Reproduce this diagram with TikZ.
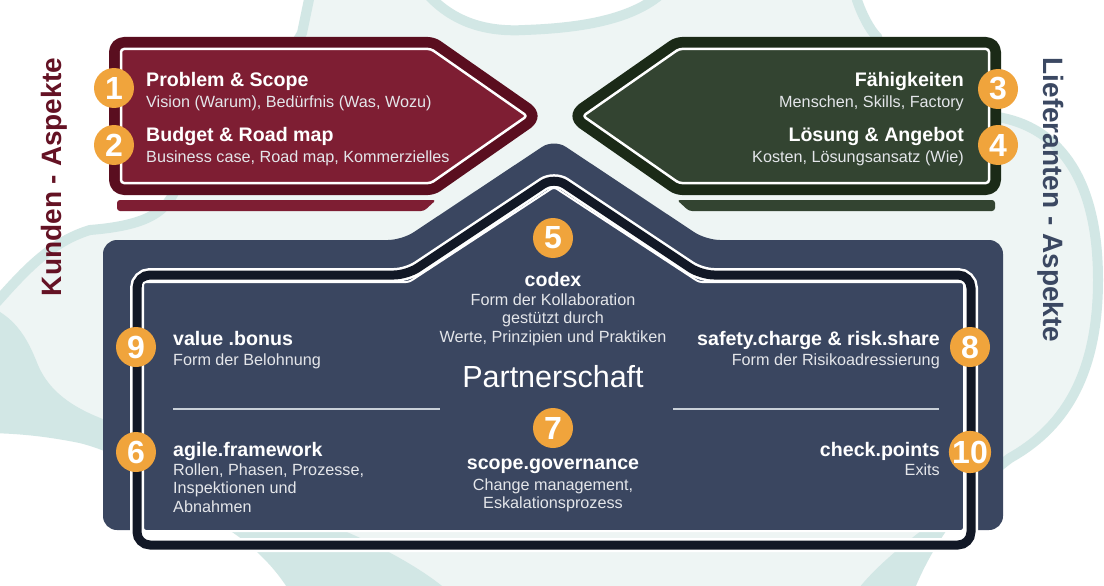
\documentclass[tikz,border=0pt]{standalone}
\usepackage{fontspec}
\setmainfont{Liberation Sans}
\definecolor{mint}{HTML}{EEF5F4}
\definecolor{teal}{HTML}{D2E7E5}
\definecolor{redin}{HTML}{7E1E33}
\definecolor{redout}{HTML}{5A0E1F}
\definecolor{grnin}{HTML}{334431}
\definecolor{grnout}{HTML}{1B2A17}
\definecolor{slate}{HTML}{3A4660}
\definecolor{frameblk}{HTML}{121826}
\definecolor{badge}{HTML}{F0A43C}
\definecolor{subtxt}{HTML}{E4E6EA}
\definecolor{rulegrey}{HTML}{C9D0D8}
\definecolor{kundcol}{HTML}{641224}
\definecolor{liefcol}{HTML}{3B4862}
% outline of the soft background blob
\newcommand\blobpath{(175,190) .. controls (200,130) and (280,75) .. (302,33) -- (312,-15) -- (420,-15)
  .. controls (450,25) and (490,32) .. (525,30) .. controls (580,28) and (640,20) .. (670,-15)
  -- (855,-15) -- (857,0) .. controls (862,15) and (870,30) .. (877,37)
  .. controls (890,80) and (940,105) .. (1003,118) .. controls (1060,130) and (1098,180) .. (1098,280)
  .. controls (1098,380) and (1060,430) .. (1010,458) .. controls (960,495) and (925,545) .. (905,600)
  -- (300,600) .. controls (285,570) and (260,545) .. (235,528) .. controls (190,490) and (130,450) .. (80,438)
  .. controls (40,430) and (10,428) .. (-20,428) -- (-20,320) .. controls (10,290) and (40,245) .. (90,230)
  .. controls (140,226) and (165,215) .. (175,190) -- cycle}
\begin{document}
\begin{tikzpicture}[x=1pt,y=-1pt,
  num/.style={circle, fill=badge, text=white, inner sep=0pt, minimum size=40pt,
    font=\bfseries\fontsize{32}{32}\selectfont},
  ttl/.style={text=white, inner sep=0pt, font=\bfseries\fontsize{19.6}{19.6}\selectfont},
  sub/.style={text=subtxt, inner sep=0pt, font=\fontsize{16.2}{16.2}\selectfont},
  side/.style={inner sep=0pt, font=\bfseries\fontsize{28}{28}\selectfont},
  arrowfill/.style={line width=2.5pt, draw=white, rounded corners=3pt, line join=round},
  arrowrim/.style={line width=24pt, line join=round, rounded corners=3pt},
]
\useasboundingbox (0,0) rectangle (1104,586);
\fill[white] (0,0) rectangle (1104,586);

% background blob with its teal rim
\begin{scope}
  \clip (0,0) rectangle (1104,586);
  \fill[mint] \blobpath;
  \begin{scope}
    \clip \blobpath;
    \fill[teal] (-30,300) .. controls (15,310) and (28,340) .. (38,365)
      .. controls (52,398) and (85,415) .. (130,428) -- (130,480) -- (-30,480) -- cycle;
    \fill[teal] (180,480) -- (330,525) .. controls (380,545) and (430,572) .. (458,600) -- (180,600) -- cycle;
    \fill[teal] (1005,470) .. controls (950,510) and (880,555) .. (850,600) -- (1120,600) -- (1120,430) -- cycle;
  \end{scope}
  \draw[teal, line width=10pt] \blobpath;
\end{scope}

% customer arrow (left, red)
\fill[redin, rounded corners=3pt] (117,200) -- (436,200) -- (424,211) -- (117,211) -- cycle;
\draw[redout, arrowrim, fill=redout] (121,49) -- (431,49) -- (527,116) -- (431,183) -- (121,183) -- cycle;
\draw[arrowfill, fill=redin] (121,49) -- (431,49) -- (527,116) -- (431,183) -- (121,183) -- cycle;

% supplier arrow (right, green)
\fill[grnin, rounded corners=3pt] (677,200) -- (995,200) -- (995,211) -- (689,211) -- cycle;
\draw[grnout, arrowrim, fill=grnout] (989,49) -- (679,49) -- (583,116) -- (679,183) -- (989,183) -- cycle;
\draw[arrowfill, fill=grnin] (989,49) -- (679,49) -- (583,116) -- (679,183) -- (989,183) -- cycle;

% partnership house
\fill[slate, rounded corners=14pt] (103,530) -- (103,240) -- (402,240) -- (554,139) -- (706,240)
  -- (1003,240) -- (1003,530) -- cycle;
\draw[white, line width=14pt, rounded corners=13pt] (137,545) -- (137,275) -- (407,275) -- (554,177)
  -- (701,275) -- (971,275) -- (971,545) -- cycle;
\draw[frameblk, line width=9pt, rounded corners=13pt] (137,545) -- (137,275) -- (407,275) -- (554,177)
  -- (701,275) -- (971,275) -- (971,545) -- cycle;
\draw[white, line width=2pt, fill=slate, rounded corners=3pt] (143,531) -- (143,282) -- (409,282)
  -- (554,187) -- (699,282) -- (964,282) -- (964,531) -- cycle;

% separators
\draw[rulegrey, line width=2.5pt] (173,409) -- (440,409);
\draw[rulegrey, line width=2.5pt] (673,409) -- (939,409);

% side labels
\node[side, text=kundcol, rotate=90] (kunden) at (54,177) {Kunden - Aspekte};
\node[side, text=liefcol, rotate=-90] (lief) at (1051,200) {Lieferanten - Aspekte};

% customer texts
\node[ttl, anchor=base west] (t1) at (146,87) {Problem \& Scope};
\node[sub, anchor=base west] (s1) at (146,107) {Vision (Warum), Bedürfnis (Was, Wozu)};
\node[ttl, anchor=base west] (t2) at (146,142) {Budget \& Road map};
\node[sub, anchor=base west] (s2) at (146,162) {Business case, Road map, Kommerzielles};

% supplier texts
\node[ttl, anchor=base east] (t3) at (964,87) {Fähigkeiten};
\node[sub, anchor=base east] (s3) at (964,107) {Menschen, Skills, Factory};
\node[ttl, anchor=base east] (t4) at (964,142) {Lösung \& Angebot};
\node[sub, anchor=base east] (s4) at (964,162) {Kosten, Lösungsansatz (Wie)};

% house texts
\node[ttl, anchor=base] (t5) at (553,286) {codex};
\node[sub, anchor=base] (s5a) at (553,305) {Form der Kollaboration};
\node[sub, anchor=base] (s5b) at (553,323) {gestützt durch};
\node[sub, anchor=base] (s5c) at (553,342) {Werte, Prinzipien und Praktiken};
\node[text=white, inner sep=0pt, anchor=base, font=\fontsize{30.5}{30.5}\selectfont] (partner) at (553,387) {Partnerschaft};
\node[ttl, anchor=base] (t7) at (553,469) {scope.governance};
\node[sub, anchor=base] (s7a) at (553,490) {Change management,};
\node[sub, anchor=base] (s7b) at (553,508) {Eskalationsprozess};

\node[ttl, anchor=base west] (t9) at (173,345) {value .bonus};
\node[sub, anchor=base west] (s9) at (173,365) {Form der Belohnung};
\node[ttl, anchor=base east] (t8) at (940,345) {safety.charge \& risk.share};
\node[sub, anchor=base east] (s8) at (940,365) {Form der Risikoadressierung};
\node[ttl, anchor=base west] (t6) at (173,456) {agile.framework};
\node[sub, anchor=base west] (s6a) at (173,475) {Rollen, Phasen, Prozesse,};
\node[sub, anchor=base west] (s6b) at (173,493) {Inspektionen und};
\node[sub, anchor=base west] (s6c) at (173,512) {Abnahmen};
\node[ttl, anchor=base east] (t10) at (940,456) {check.points};
\node[sub, anchor=base east] (s10) at (940,475) {Exits};

% numbered badges
\node[num] (n1) at (114,88) {1};
\node[num] (n2) at (114,145) {2};
\node[num] (n3) at (998,89) {3};
\node[num] (n4) at (998,145) {4};
\node[num] (n5) at (553,238) {5};
\node[num] (n6) at (136,452) {6};
\node[num] (n7) at (553,428) {7};
\node[num] (n8) at (970,347) {8};
\node[num] (n9) at (136,347) {9};
\node[num] (n10) at (970,452) {10};
\end{tikzpicture}
\end{document}
